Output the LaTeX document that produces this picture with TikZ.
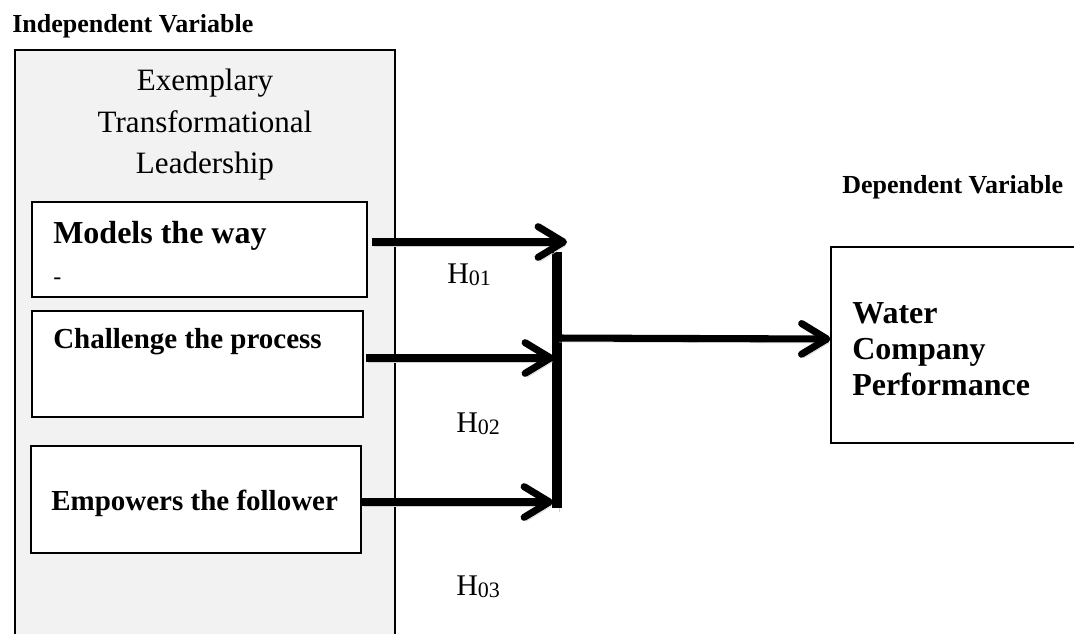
\documentclass[tikz,border=0pt]{standalone}
\usepackage{fontspec}
\setmainfont{Liberation Serif}
\usetikzlibrary{arrows.meta}
\newlength\pxl
\setlength\pxl{0.75pt}
\definecolor{panelgrey}{RGB}{242,242,242}
\begin{document}
\begin{tikzpicture}[x=0.75pt,y=-0.75pt,
  varbox/.style={draw=black, line width=0.8pt, fill=white, inner sep=0pt},
  panel/.style={draw=black, line width=0.8pt, fill=panelgrey, inner sep=0pt},
  head/.style={font=\fontsize{19.5}{22}\selectfont\bfseries, inner sep=0pt, anchor=base west},
  titletxt/.style={font=\fontsize{23.3}{28}\selectfont, inner sep=0pt, anchor=base},
  boxtxt/.style={font=\fontsize{21.75}{26}\selectfont\bfseries, inner sep=0pt, anchor=base west},
  hyp/.style={font=\fontsize{22.5}{26}\selectfont, inner sep=0pt, anchor=base west},
  link/.style={line width=5.3pt,
    -{Straight Barb[length=19pt,width=23pt,line width=5.3pt,round]},
    preaction={draw=black!18, transform canvas={shift={(2,4)}}}},
  barline/.style={line width=8pt,
    preaction={draw=black!18, transform canvas={shift={(2,4)}}}}
]
\clip (0,0) rectangle (1074,633);
\useasboundingbox (0,0) rectangle (1074,633);

% headings
\node[head] (indep) at (12,32) {Independent Variable};
\node[head] (dep) at (842,193) {Dependent Variable};

% grey panel (open at bottom, runs past the edge)
\node[panel, minimum width=380\pxl, minimum height=600\pxl] (lead) at (205,350) {};
\node[titletxt] (t1) at (205,90) {Exemplary};
\node[titletxt] (t2) at (205,132) {Transformational};
\node[titletxt] (t3) at (205,173) {Leadership};

% variable boxes
\node[varbox, minimum width=335\pxl, minimum height=95\pxl] (models) at (199.5,249.5) {};
\node[boxtxt, font=\fontsize{24}{28}\selectfont\bfseries] (modelst) at (53,243) {Models the way};
\node[inner sep=0pt, anchor=base west, font=\fontsize{18}{20}\selectfont] (dash) at (53,284) {-};

\node[varbox, minimum width=331\pxl, minimum height=106\pxl] (challenge) at (197.5,364) {};
\node[boxtxt] (challenget) at (53,348) {Challenge the process};

\node[varbox, minimum width=330\pxl, minimum height=107\pxl] (empowers) at (196,499.5) {};
\node[boxtxt] (empowerst) at (51,510) {Empowers the follower};

% dependent box (right side runs past the edge)
\node[varbox, minimum width=320\pxl, minimum height=196\pxl] (water) at (991,345) {};
\node[boxtxt, font=\fontsize{24}{26}\selectfont\bfseries] (w1) at (852,323) {Water};
\node[boxtxt, font=\fontsize{24}{26}\selectfont\bfseries] (w2) at (852,359) {Company};
\node[boxtxt, font=\fontsize{24}{26}\selectfont\bfseries] (w3) at (852,395) {Performance};

% hypothesis labels
\node[hyp] (h1) at (447,283) {H\raisebox{-2pt}{\fontsize{16.5}{18}\selectfont 01}};
\node[hyp] (h2) at (456,432) {H\raisebox{-2pt}{\fontsize{16.5}{18}\selectfont 02}};
\node[hyp] (h3) at (456,595) {H\raisebox{-2pt}{\fontsize{16.5}{18}\selectfont 03}};

% junction coordinates
\coordinate (a1) at (567,242);
\coordinate (a2) at (554,358);
\coordinate (a3) at (553,502);
\coordinate (bartop) at (557,252);
\coordinate (barbot) at (557,508);
\coordinate (barmid) at (557,338);

% connectors
\draw[barline] (bartop) -- (barbot);
\draw[link] ([xshift=3]models.east |- a1) -- (a1);
\draw[link] ([xshift=2]challenge.east |- a2) -- (a2);
\draw[link] (empowers.east |- a3) -- (a3);
\draw[link] (barmid) -- (water.west |- 0,339);
\end{tikzpicture}
\end{document}
